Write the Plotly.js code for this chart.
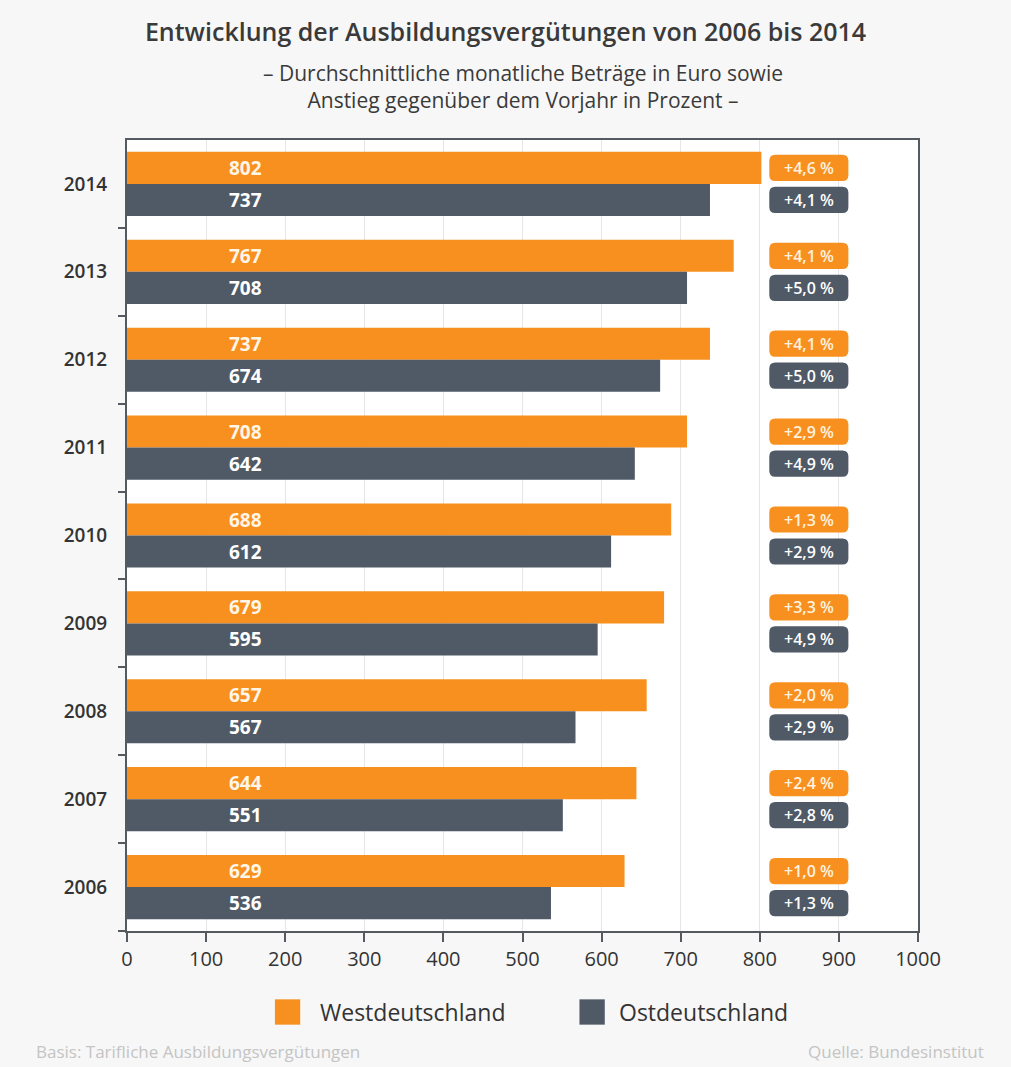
<!DOCTYPE html>
<html>
<head>
<meta charset="utf-8">
<script src="https://cdn.plot.ly/plotly-3.0.1.min.js"></script>
<style>
html,body{margin:0;padding:0;background:#f7f7f7;}
#chart{width:1011px;height:1067px;}
</style>
</head>
<body>
<div id="chart"></div>
<script>
const years = ["2014","2013","2012","2011","2010","2009","2008","2007","2006"];
const west = [802, 767, 737, 708, 688, 679, 657, 644, 629];
const east = [737, 708, 674, 642, 612, 595, 567, 551, 536];
const westPct = ["+4,6 %","+4,1 %","+4,1 %","+2,9 %","+1,3 %","+3,3 %","+2,0 %","+2,4 %","+1,0 %"];
const eastPct = ["+4,1 %","+5,0 %","+5,0 %","+4,9 %","+2,9 %","+4,9 %","+2,9 %","+2,8 %","+1,3 %"];
const seriesNames = ["Westdeutschland", "Ostdeutschland"];
const xTicks = [0,100,200,300,400,500,600,700,800,900,1000];

const ORANGE = "#f7901e";
const GRAY = "#505a66";
const FONT = "Open Sans, Noto Sans, sans-serif";

const traces = [
  {type:"bar", orientation:"h", name:seriesNames[0], y:years, x:west,
   marker:{color:ORANGE}, hoverinfo:"x"},
  {type:"bar", orientation:"h", name:seriesNames[1], y:years, x:east,
   marker:{color:GRAY}, hoverinfo:"x"},
  // empty helper trace so the boundary-tick axis is drawn
  {type:"scatter", mode:"markers", x:[], y:[], yaxis:"y2", hoverinfo:"skip", showlegend:false}
];

const annotations = [];
const shapes = [];
const BAR_SHIFT = 16;      // px offset of each bar centre from category centre
const BAND_PX = 791 / years.length;
const LABEL_X = 150;
const BADGE_X = 862;
const BADGE_HALF_W = 50;   // data units
const BADGE_HALF_H = 14 / BAND_PX; // category units
const RX = 7.5, RY = 6 / BAND_PX;  // corner radii

function roundRect(x0, x1, y0, y1) {
  return `M ${x0+RX},${y0} L ${x1-RX},${y0} Q ${x1},${y0} ${x1},${y0+RY} ` +
         `L ${x1},${y1-RY} Q ${x1},${y1} ${x1-RX},${y1} L ${x0+RX},${y1} ` +
         `Q ${x0},${y1} ${x0},${y1-RY} L ${x0},${y0+RY} Q ${x0},${y0} ${x0+RX},${y0} Z`;
}

years.forEach((yr, i) => {
  const off = BAR_SHIFT / BAND_PX;
  const yW = i - off, yE = i + off;  // reversed axis: smaller index is higher
  shapes.push({type:"path", xref:"x", yref:"y", layer:"above",
    path:roundRect(BADGE_X-BADGE_HALF_W, BADGE_X+BADGE_HALF_W, yW-BADGE_HALF_H+0.01, yW+BADGE_HALF_H-0.01),
    fillcolor:ORANGE, line:{width:0}});
  shapes.push({type:"path", xref:"x", yref:"y", layer:"above",
    path:roundRect(BADGE_X-BADGE_HALF_W, BADGE_X+BADGE_HALF_W, yE-BADGE_HALF_H+0.01, yE+BADGE_HALF_H-0.01),
    fillcolor:GRAY, line:{width:0}});

  annotations.push({x:LABEL_X, y:i, xref:"x", yref:"y", yshift:BAR_SHIFT, text:String(west[i]),
    showarrow:false, font:{family:FONT, size:19, color:"#fff6e8", weight:700}});
  annotations.push({x:LABEL_X, y:i, xref:"x", yref:"y", yshift:-BAR_SHIFT, text:String(east[i]),
    showarrow:false, font:{family:FONT, size:19, color:"#ffffff", weight:700}});
  annotations.push({x:BADGE_X, y:i, xref:"x", yref:"y", yshift:BAR_SHIFT, text:westPct[i],
    showarrow:false, font:{family:FONT, size:16, color:"#fff3e0", weight:600}});
  annotations.push({x:BADGE_X, y:i, xref:"x", yref:"y", yshift:-BAR_SHIFT, text:eastPct[i],
    showarrow:false, font:{family:FONT, size:16, color:"#ffffff", weight:600}});
});

// subtitle
annotations.push({xref:"paper", yref:"paper", x:0.5, y:1.068, xanchor:"center", yanchor:"middle",
  text:"– Durchschnittliche monatliche Beträge in Euro sowie<br>Anstieg gegenüber dem Vorjahr in Prozent –",
  showarrow:false, font:{family:FONT, size:21, color:"#3a3a3a"}});

// legend (custom)
const legY = -0.1024;
annotations.push({xref:"paper", yref:"paper", x:0.241, y:legY, xanchor:"left", yanchor:"middle",
  text:seriesNames[0], showarrow:false, font:{family:FONT, size:23, color:"#333333"}});
annotations.push({xref:"paper", yref:"paper", x:0.620, y:legY, xanchor:"left", yanchor:"middle",
  text:seriesNames[1], showarrow:false, font:{family:FONT, size:23, color:"#333333"}});
shapes.push({type:"rect", xref:"paper", yref:"paper", x0:0.187, x1:0.219, y0:legY-0.016, y1:legY+0.016,
   fillcolor:ORANGE, line:{width:0}});
shapes.push({type:"rect", xref:"paper", yref:"paper", x0:0.572, x1:0.604, y0:legY-0.016, y1:legY+0.016,
   fillcolor:GRAY, line:{width:0}});

// footer
annotations.push({xref:"paper", yref:"paper", x:0.297, y:-0.152, xanchor:"right", yanchor:"middle",
  text:"Basis: Tarifliche Ausbildungsvergütungen", showarrow:false, font:{family:FONT, size:17, color:"#c4c4c4"}});
annotations.push({xref:"paper", yref:"paper", x:0.858, y:-0.152, xanchor:"left", yanchor:"middle",
  text:"Quelle: Bundesinstitut", showarrow:false, font:{family:FONT, size:17, color:"#c4c4c4"}});

const boundaryTicks = years.map((_, i) => i + 0.5);

const layout = {
  width:1011, height:1067,
  margin:{l:127, r:93, t:140, b:136},
  paper_bgcolor:"#f7f7f7",
  plot_bgcolor:"#ffffff",
  barmode:"group",
  bargap:0.27,
  bargroupgap:0,
  showlegend:false,
  title:{text:"Entwicklung der Ausbildungsvergütungen von 2006 bis 2014",
    x:0.5, xanchor:"center", y:0.970, yanchor:"middle",
    font:{family:FONT, size:25, color:"#3a3a3a", weight:600}},
  xaxis:{range:[0,1000], tickvals:xTicks, ticktext:xTicks.map(String),
    showgrid:true, gridcolor:"#e6e6e6", gridwidth:1,
    ticks:"outside", ticklen:9, tickcolor:"#555a60", tickwidth:2,
    showline:true, linecolor:"#555a60", linewidth:2, mirror:true,
    zeroline:false, fixedrange:true,
    tickfont:{family:FONT, size:20, color:"#333333"}},
  yaxis:{type:"category", categoryorder:"array", categoryarray:years,
    range:[years.length - 0.5, -0.5], autorange:false,
    ticks:"", showline:true, linecolor:"#555a60", linewidth:2, mirror:true,
    showgrid:false, ticklabelstandoff:14, fixedrange:true,
    tickfont:{family:FONT, size:19, color:"#333333", weight:600}},
  yaxis2:{overlaying:"y", side:"left", type:"linear",
    range:[years.length - 0.5, -0.5], autorange:false,
    tickvals:boundaryTicks, ticks:"outside", ticklen:8, tickcolor:"#555a60", tickwidth:2,
    showticklabels:false, showline:false, showgrid:false, zeroline:false, fixedrange:true},
  annotations:annotations,
  shapes:shapes
};

Plotly.newPlot("chart", traces, layout, {displayModeBar:false, responsive:false});
</script>
</body>
</html>
